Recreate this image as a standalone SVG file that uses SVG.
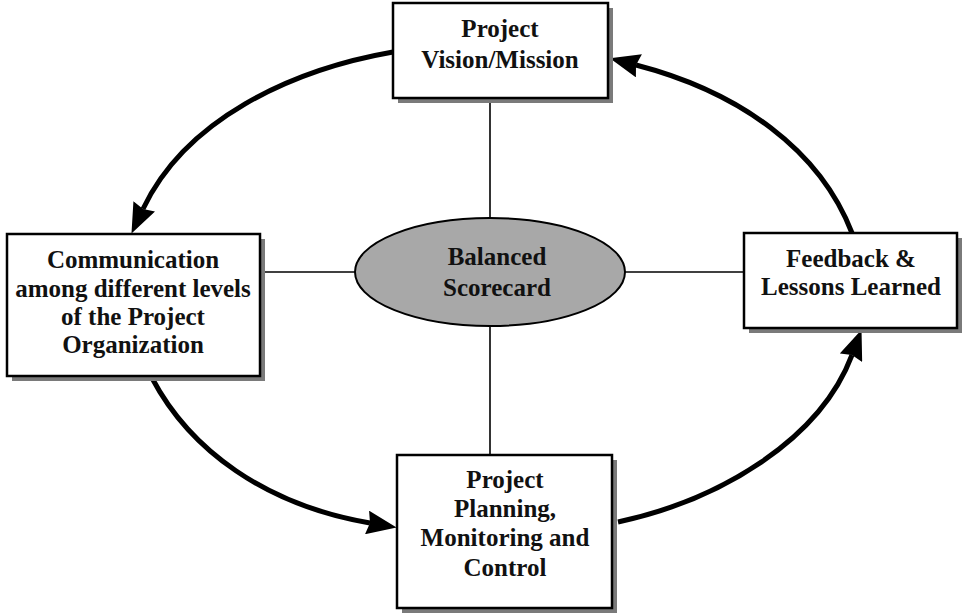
<svg xmlns="http://www.w3.org/2000/svg" width="962" height="614" viewBox="0 0 962 614">
  <style>
    .box { fill: #ffffff; stroke: #000000; stroke-width: 2.5; }
    .shadow { fill: #7a7a7a; }
    .label { font-family: "Liberation Serif", "Times New Roman", serif; font-weight: bold; font-size: 25px; text-anchor: middle; fill: #111111; }
    .spoke { stroke: #000000; stroke-width: 1.6; fill: none; }
    .cycle { stroke: #000000; stroke-width: 5; fill: none; marker-end: url(#head); }
  </style>
  <defs>
    <marker id="head" markerUnits="userSpaceOnUse" markerWidth="30" markerHeight="24" refX="3" refY="12" orient="auto" viewBox="0 0 30 24">
      <path d="M0,0 L30,12 L0,24 L3,12 z" fill="#000000"/>
    </marker>
  </defs>
  <rect width="962" height="614" fill="#ffffff"/>

  <!-- straight spokes from the hub to each box -->
  <g id="connectors">
    <line class="spoke" x1="490" y1="98" x2="490" y2="218"/>
    <line class="spoke" x1="260" y1="272" x2="355" y2="272"/>
    <line class="spoke" x1="625" y1="272" x2="744" y2="272"/>
    <line class="spoke" x1="490" y1="326" x2="490" y2="455"/>
    <!-- outer cycle -->
    <path class="cycle" d="M 393 52 C 290 70, 185 120, 143 209"/>
    <path class="cycle" d="M 152 378 C 190 450, 265 505, 370 523"/>
    <path class="cycle" d="M 618 522 C 720 500, 820 440, 852 355"/>
    <path class="cycle" d="M 852 233 C 820 150, 740 92, 636 65"/>
  </g>

  <g id="hub">
    <ellipse cx="490" cy="272" rx="135" ry="54" fill="#a8a8a8" stroke="#000000" stroke-width="2"/>
    <text class="label" x="497" y="265">Balanced</text>
    <text class="label" x="497" y="296">Scorecard</text>
  </g>

  <g id="vision">
    <rect class="shadow" x="398" y="8" width="215" height="95"/>
    <rect class="box" x="393" y="3" width="215" height="95"/>
    <text class="label" x="500" y="37">Project</text>
    <text class="label" x="500" y="68">Vision/Mission</text>
  </g>

  <g id="communication">
    <rect class="shadow" x="12" y="239" width="253" height="142"/>
    <rect class="box" x="7" y="234" width="253" height="142"/>
    <text class="label" x="133" y="268">Communication</text>
    <text class="label" x="133" y="297">among different levels</text>
    <text class="label" x="133" y="325">of the Project</text>
    <text class="label" x="133" y="353">Organization</text>
  </g>

  <g id="feedback">
    <rect class="shadow" x="749" y="238" width="213" height="95"/>
    <rect class="box" x="744" y="233" width="213" height="95"/>
    <text class="label" x="851" y="267">Feedback &amp;</text>
    <text class="label" x="851" y="295">Lessons Learned</text>
  </g>

  <g id="planning">
    <rect class="shadow" x="402" y="460" width="215" height="153"/>
    <rect class="box" x="397" y="455" width="215" height="153"/>
    <text class="label" x="505" y="488">Project</text>
    <text class="label" x="505" y="517">Planning,</text>
    <text class="label" x="505" y="546">Monitoring and</text>
    <text class="label" x="505" y="576">Control</text>
  </g>
</svg>
